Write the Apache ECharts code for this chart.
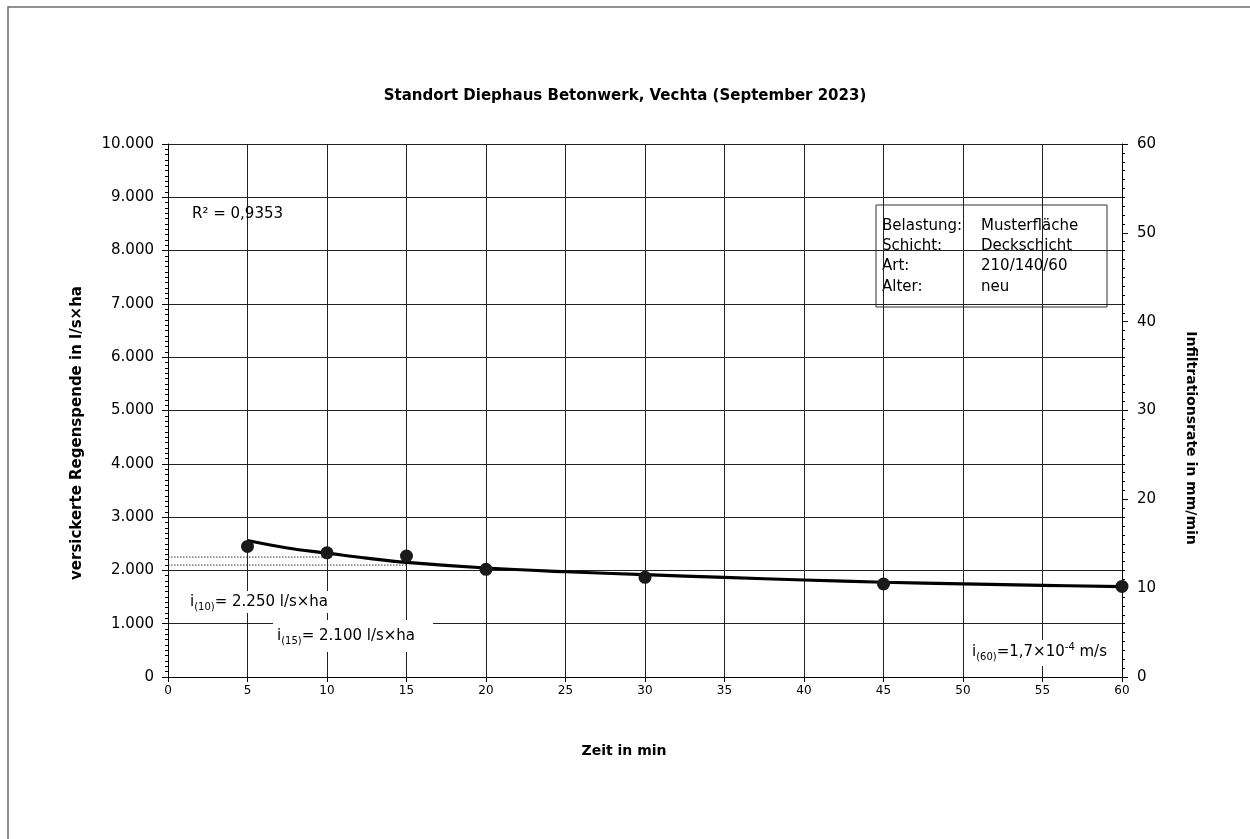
<!DOCTYPE html>
<html>
<head>
<meta charset="utf-8">
<script src="https://cdn.jsdelivr.net/npm/echarts@6/dist/echarts.min.js"></script>
<style>
html,body{margin:0;padding:0;background:#fff;}
#chart{width:1250px;height:839px;}
</style>
</head>
<body>
<div id="chart"></div>
<script>
// ---- data ----
const titleText = 'Standort Diephaus Betonwerk, Vechta (September 2023)';
const measuredX = [5, 10, 15, 20, 30, 45, 60];
const measuredY = [2450, 2330, 2270, 2020, 1870, 1745, 1700];
const trendX = [5, 7.5, 10, 12.5, 15, 20, 25, 30, 35, 40, 45, 50, 55, 60];
const trendY = [2560, 2420, 2325, 2230, 2150, 2045, 1975, 1920, 1868, 1820, 1778, 1748, 1720, 1695];
const refLevels = [2250, 2100];
const refEnds = [10, 15];
const legendKeys = ['Belastung:', 'Schicht:', 'Art:', 'Alter:'];
const legendVals = ['Musterfläche', 'Deckschicht', '210/140/60', 'neu'];

const FONT = 'DejaVu Sans';
const fmtDE = v => String(v).replace(/\B(?=(\d{3})+(?!\d))/g, '.');

const chart = echarts.init(document.getElementById('chart'));

const refSeries = refLevels.map((lv, i) => ({
  type: 'line',
  data: [[0, lv], [refEnds[i], lv]],
  showSymbol: false,
  symbol: 'none',
  lineStyle: { color: '#333', width: 1, type: [1.5, 1.5] },
  z: 2,
  silent: true
}));

const legendChildren = [{
  type: 'rect',
  shape: { x: 876, y: 205, width: 231, height: 102 },
  style: { fill: '#fff', stroke: '#333', lineWidth: 1 }
}];
legendKeys.forEach((k, i) => {
  legendChildren.push({
    type: 'text',
    style: { x: 882, y: 226 + i * 20.3, text: k, font: '15px "' + FONT + '"', fill: '#000', verticalAlign: 'middle' }
  });
  legendChildren.push({
    type: 'text',
    style: { x: 981, y: 226 + i * 20.3, text: legendVals[i], font: '15px "' + FONT + '"', fill: '#000', verticalAlign: 'middle' }
  });
});

const richSub = {
  m: { fontFamily: FONT, fontSize: 15, lineHeight: 20, color: '#000' },
  sub: { fontFamily: FONT, fontSize: 10, lineHeight: 10, verticalAlign: 'bottom', color: '#000' },
  sup: { fontFamily: FONT, fontSize: 10, lineHeight: 10, verticalAlign: 'top', color: '#000' }
};

chart.setOption({
  animation: false,
  backgroundColor: '#fff',
  title: {
    text: titleText,
    left: 'center',
    top: 84,
    textStyle: { fontFamily: FONT, fontSize: 15, fontWeight: 'bold', color: '#000' }
  },
  grid: { left: 168, right: 128, top: 144, bottom: 162 },
  xAxis: {
    type: 'value', min: 0, max: 60, interval: 5,
    axisLine: { show: true, lineStyle: { color: '#000', width: 1 } },
    axisTick: { show: true, length: 5, lineStyle: { color: '#000' } },
    axisLabel: { fontFamily: FONT, fontSize: 12, color: '#000', margin: 8 },
    splitLine: { show: true, lineStyle: { color: '#222', width: 1 } }
  },
  yAxis: [{
    type: 'value', min: 0, max: 10000, interval: 1000, position: 'left',
    axisLine: { show: true, lineStyle: { color: '#000', width: 1 } },
    axisTick: { show: true, length: 6, lineStyle: { color: '#000' } },
    minorTick: { show: true, splitNumber: 10, length: 3, lineStyle: { color: '#000' } },
    axisLabel: { fontFamily: FONT, fontSize: 15, color: '#000', margin: 14, formatter: fmtDE },
    splitLine: { show: true, lineStyle: { color: '#222', width: 1 } }
  }, {
    type: 'value', min: 0, max: 60, interval: 10, position: 'right',
    axisLine: { show: true, lineStyle: { color: '#000', width: 1 } },
    axisTick: { show: true, length: 6, lineStyle: { color: '#000' } },
    minorTick: { show: true, splitNumber: 10, length: 3, lineStyle: { color: '#000' } },
    axisLabel: { fontFamily: FONT, fontSize: 15, color: '#000', margin: 15 },
    splitLine: { show: false }
  }],
  series: [
    ...refSeries,
    {
      type: 'line',
      name: 'Trend',
      data: trendX.map((x, i) => [x, trendY[i]]),
      smooth: 0.4,
      showSymbol: false,
      symbol: 'none',
      lineStyle: { color: '#000', width: 3.2 },
      z: 3
    },
    {
      type: 'scatter',
      name: 'Messwerte',
      data: measuredX.map((x, i) => [x, measuredY[i]]),
      symbol: 'circle',
      symbolSize: 13,
      itemStyle: { color: '#1a1a1a', opacity: 1 },
      z: 4
    }
  ],
  graphic: [
    {
      type: 'rect', z: 0, silent: true,
      shape: { x: 8, y: 7, width: 1400, height: 1000 },
      style: { fill: 'none', stroke: '#6e6e6e', lineWidth: 1.5 }
    },
    {
      type: 'group', z: 100, children: legendChildren
    },
    {
      type: 'text', z: 100,
      style: { x: 192, y: 214, text: 'R² = 0,9353', font: '15px "' + FONT + '"', fill: '#000', verticalAlign: 'middle' }
    },
    {
      type: 'text', z: 100,
      style: {
        x: 188, y: 591,
        text: '{m|i}{sub|(10)}{m|= 2.250 l/s×ha}',
        rich: richSub,
        backgroundColor: '#fff',
        padding: [1, 4, 1, 2]
      }
    },
    {
      type: 'text', z: 100,
      style: {
        x: 273, y: 620,
        text: '{m|i}{sub|(15)}{m|= 2.100 l/s×ha}',
        rich: richSub,
        backgroundColor: '#fff',
        padding: [6, 18, 6, 4]
      }
    },
    {
      type: 'text', z: 100,
      style: {
        x: 968, y: 640,
        text: '{m|i}{sub|(60)}{m|=1,7×10}{sup|-4}{m| m/s}',
        rich: richSub,
        backgroundColor: '#fff',
        padding: [2, 4, 4, 4]
      }
    },
    {
      type: 'text', z: 100,
      x: 77, y: 433, rotation: Math.PI / 2,
      style: { x: 0, y: 0, text: 'versickerte Regenspende in l/s×ha', font: 'bold 15px "' + FONT + '"', fill: '#000', align: 'center', verticalAlign: 'middle' }
    },
    {
      type: 'text', z: 100,
      x: 1191, y: 438, rotation: -Math.PI / 2,
      style: { x: 0, y: 0, text: 'Infiltrationsrate in mm/min', font: 'bold 14px "' + FONT + '"', fill: '#000', align: 'center', verticalAlign: 'middle' }
    },
    {
      type: 'text', z: 100,
      x: 624, y: 751,
      style: { x: 0, y: 0, text: 'Zeit in min', font: 'bold 14px "' + FONT + '"', fill: '#000', align: 'center', verticalAlign: 'middle' }
    }
  ]
});
</script>
</body>
</html>
